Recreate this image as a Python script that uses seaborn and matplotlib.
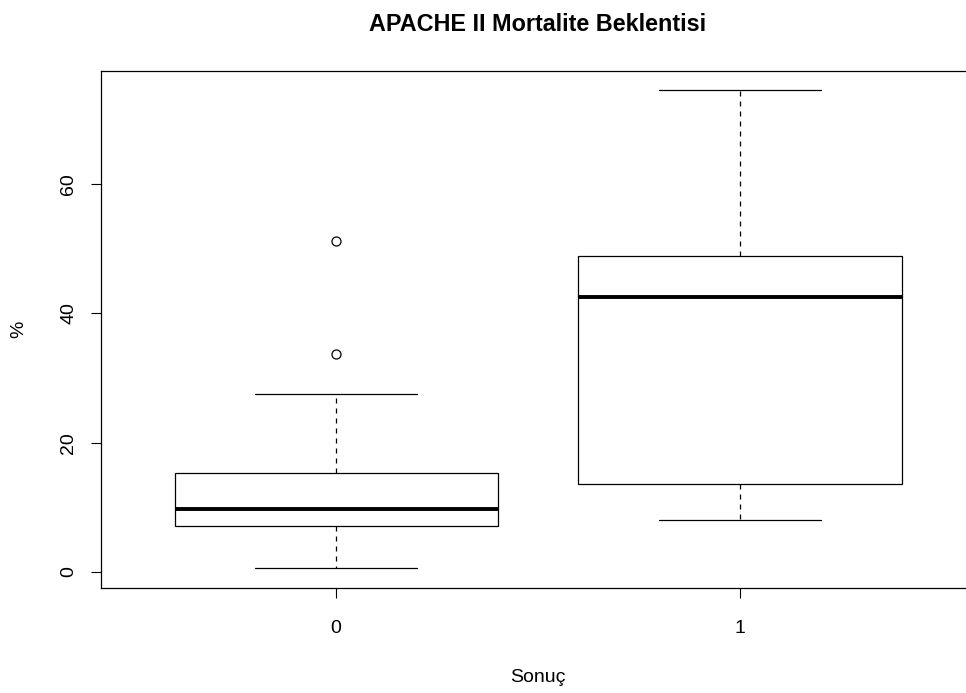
import matplotlib
matplotlib.use("Agg")
import matplotlib.pyplot as plt
import seaborn as sns
import pandas as pd

# Estimated observations per outcome group (read from box/whisker/outlier positions)
group0 = [0.6, 3.0, 5.5, 7.1, 8.0, 9.0, 9.75, 11.0, 13.5, 15.3, 27.5, 33.7, 51.2]
group1 = [8.0, 10.5, 13.6, 30.0, 42.5, 45.0, 48.9, 60.0, 74.5]
categories = ["0", "1"]
yticks = [0, 20, 40, 60]

df = pd.DataFrame({
    "Sonuç": [categories[0]] * len(group0) + [categories[1]] * len(group1),
    "value": group0 + group1,
})

sns.set_style("ticks")
plt.rcParams["font.family"] = ["Liberation Sans", "DejaVu Sans"]
plt.rcParams["text.color"] = "black"
plt.rcParams["axes.labelcolor"] = "black"
plt.rcParams["xtick.color"] = "black"
plt.rcParams["ytick.color"] = "black"

fig = plt.figure(figsize=(9.66, 6.93), dpi=100)
ax = fig.add_axes([0.1046, 0.1515, 0.9048, 0.746])

sns.boxplot(
    data=df, x="Sonuç", y="value", order=categories, ax=ax,
    color="white", linecolor="black", linewidth=0.9, width=0.8,
    whis=1.5,
    medianprops={"linewidth": 2.8, "color": "black"},
    whiskerprops={"linestyle": (0, (4, 4)), "color": "black"},
    capprops={"color": "black"},
    flierprops={"marker": "o", "markerfacecolor": "none",
                "markeredgecolor": "black", "markersize": 6.5,
                "markeredgewidth": 0.9},
)

ax.set_xlim(-0.582, 1.582)
ax.set_ylim(-2.47, 77.5)
ax.set_yticks(yticks)
ax.set_yticklabels([str(t) for t in yticks], rotation=90, va="center")
ax.tick_params(axis="both", labelsize=14, length=7, width=0.8,
               color="black", labelcolor="black")
ax.tick_params(axis="y", pad=10)
ax.tick_params(axis="x", pad=16)
for s in ax.spines.values():
    s.set_linewidth(0.9)
    s.set_color("black")
    s.set_visible(True)

ax.set_xlabel("Sonuç", fontsize=14, labelpad=23, color="black")
ax.set_ylabel("%", fontsize=14, labelpad=24, color="black")
ax.set_title("APACHE II Mortalite Beklentisi", fontsize=16.8,
             fontweight="bold", pad=29, color="black")

fig.savefig("out.png", dpi=100)
